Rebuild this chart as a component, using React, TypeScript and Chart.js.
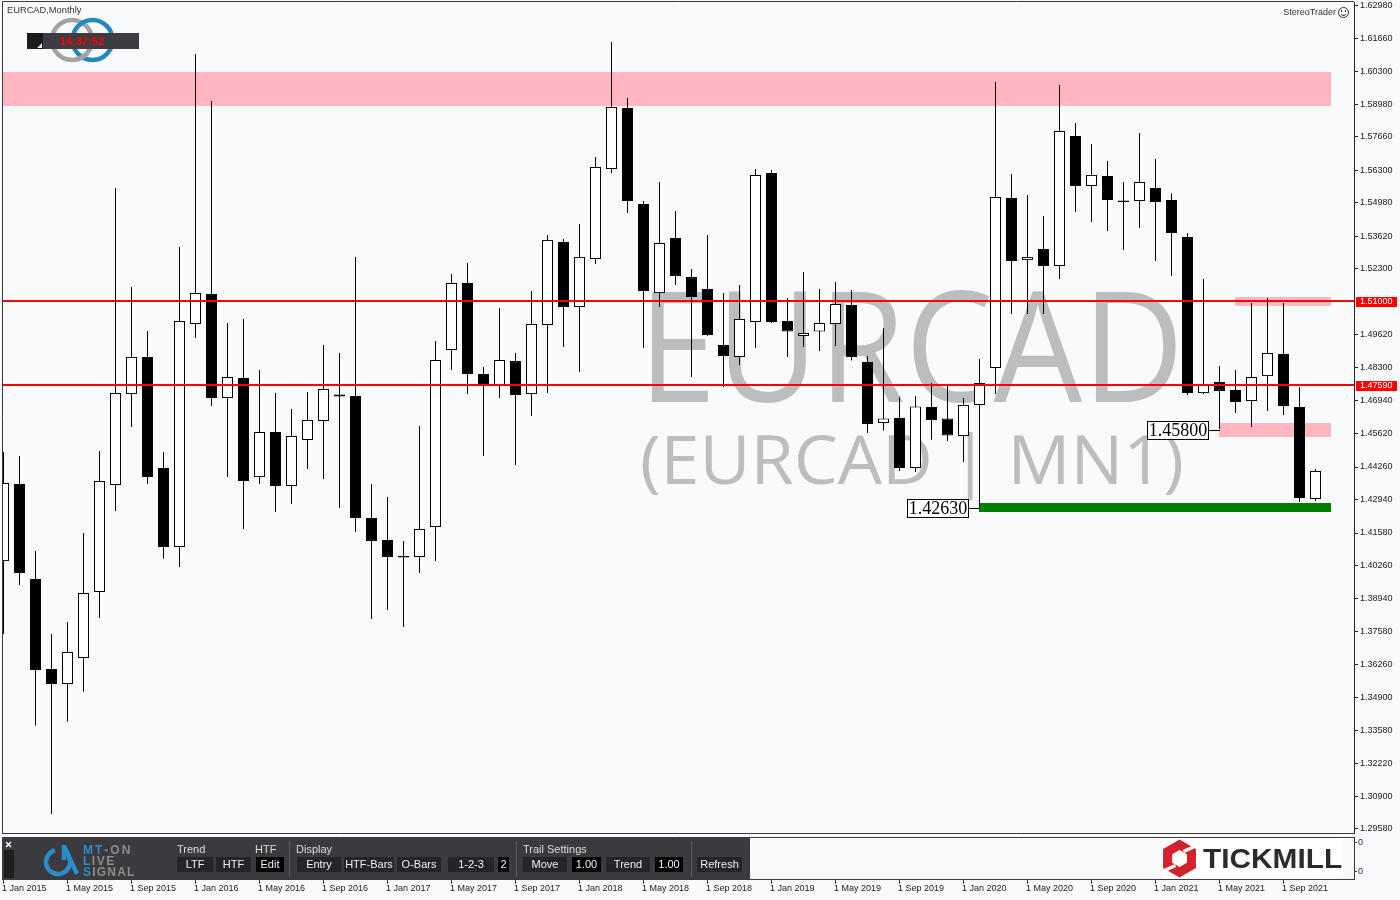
import { useEffect, useRef } from 'react';
import { Chart, registerables } from 'chart.js';

Chart.register(...registerables);

// ---------------- data ----------------
const symbol = 'EURCAD';
const periodName = 'Monthly';
const periodCode = 'MN1';

const opens = [1.4044, 1.4357, 1.3971, 1.3606, 1.3545, 1.3651, 1.3919, 1.4353, 1.4722, 1.4873,
  1.4422, 1.4101, 1.5007, 1.5128, 1.4706, 1.4787, 1.4385, 1.4568, 1.4349, 1.4536,
  1.4613, 1.4720, 1.4714, 1.4219, 1.4130, 1.4065, 1.4061, 1.4182, 1.4901, 1.5173,
  1.4804, 1.4759, 1.4856, 1.4722, 1.5003, 1.5340, 1.5076, 1.5271, 1.5636, 1.5884,
  1.5494, 1.5132, 1.5356, 1.5197, 1.5149, 1.4921, 1.4873, 1.5015, 1.5620, 1.5019,
  1.4958, 1.4976, 1.5007, 1.5084, 1.4852, 1.4605, 1.4625, 1.4422, 1.4670, 1.4623,
  1.4552, 1.4678, 1.4828, 1.5518, 1.5266, 1.5311, 1.5242, 1.5770, 1.5567, 1.5608,
  1.5508, 1.5506, 1.5559, 1.5510, 1.5360, 1.4726, 1.4771, 1.4739, 1.4694, 1.4795,
  1.4885, 1.4670, 1.4296];

const highs = [1.4487, 1.4471, 1.4085, 1.3748, 1.3797, 1.4158, 1.4491, 1.5559, 1.5157, 1.4978,
  1.4487, 1.5319, 1.6103, 1.5912, 1.5011, 1.5027, 1.4820, 1.4726, 1.4662, 1.4731,
  1.4921, 1.4889, 1.5279, 1.4357, 1.4304, 1.4126, 1.4592, 1.4938, 1.5210, 1.5254,
  1.4832, 1.5072, 1.4889, 1.5141, 1.5368, 1.5352, 1.5413, 1.5685, 1.6152, 1.5924,
  1.5506, 1.5583, 1.5465, 1.5230, 1.5368, 1.5132, 1.5165, 1.5636, 1.5632, 1.5112,
  1.5218, 1.5149, 1.5177, 1.5145, 1.4877, 1.4990, 1.4710, 1.4714, 1.4767, 1.4755,
  1.4706, 1.4865, 1.5989, 1.5616, 1.5530, 1.5445, 1.5977, 1.5823, 1.5737, 1.5668,
  1.5583, 1.5782, 1.5677, 1.5538, 1.5376, 1.5189, 1.4836, 1.4820, 1.5092, 1.5112,
  1.5092, 1.4751, 1.4418];

const lows = [1.3748, 1.3947, 1.3376, 1.3017, 1.3392, 1.3513, 1.3813, 1.4247, 1.4588, 1.4357,
  1.4053, 1.4020, 1.4950, 1.4674, 1.4385, 1.4174, 1.4357, 1.4243, 1.4276, 1.4418,
  1.4377, 1.4260, 1.4162, 1.3809, 1.3845, 1.3776, 1.3996, 1.4044, 1.4820, 1.4722,
  1.4471, 1.4706, 1.4434, 1.4633, 1.4726, 1.4913, 1.4812, 1.5250, 1.5620, 1.5457,
  1.4909, 1.5076, 1.5165, 1.4791, 1.4958, 1.4751, 1.4840, 1.4909, 1.5011, 1.4873,
  1.4913, 1.4897, 1.4917, 1.4858, 1.4564, 1.4574, 1.4410, 1.4406, 1.4537, 1.4532,
  1.4446, 1.4263, 1.4722, 1.5047, 1.5047, 1.5047, 1.5189, 1.5461, 1.5421, 1.5384,
  1.5307, 1.5396, 1.5262, 1.5202, 1.4718, 1.4722, 1.4580, 1.4645, 1.4588, 1.4653,
  1.4637, 1.4284, 1.4288];

const closes = [1.4361, 1.3996, 1.3602, 1.3545, 1.3675, 1.3914, 1.4369, 1.4726, 1.4873, 1.4385,
  1.4101, 1.5019, 1.5132, 1.4706, 1.4791, 1.4369, 1.4568, 1.4349, 1.4552, 1.4617,
  1.4743, 1.4712, 1.4219, 1.4126, 1.4061, 1.4059, 1.4174, 1.4860, 1.5173, 1.4804,
  1.4763, 1.4860, 1.4718, 1.5007, 1.5348, 1.5076, 1.5279, 1.5644, 1.5888, 1.5506,
  1.5141, 1.5335, 1.5202, 1.5116, 1.4962, 1.4877, 1.5027, 1.5612, 1.5015, 1.4976,
  1.4970, 1.5011, 1.5088, 1.4873, 1.4601, 1.4623, 1.4422, 1.4672, 1.4617, 1.4554,
  1.4678, 1.4767, 1.5522, 1.5262, 1.5279, 1.5242, 1.5790, 1.5567, 1.5612, 1.5510,
  1.5502, 1.5583, 1.5502, 1.5376, 1.4726, 1.4763, 1.4735, 1.4690, 1.4791, 1.4889,
  1.4674, 1.4300, 1.4410];

const timeLabels = ['1 Jan 2015', '1 May 2015', '1 Sep 2015', '1 Jan 2016', '1 May 2016', '1 Sep 2016',
  '1 Jan 2017', '1 May 2017', '1 Sep 2017', '1 Jan 2018', '1 May 2018', '1 Sep 2018',
  '1 Jan 2019', '1 May 2019', '1 Sep 2019', '1 Jan 2020', '1 May 2020', '1 Sep 2020',
  '1 Jan 2021', '1 May 2021', '1 Sep 2021'];
const timeLabelBars = [0, 4, 8, 12, 16, 20, 24, 28, 32, 36, 40, 44, 48, 52, 56, 60, 64, 68, 72, 76, 80];

const priceTicks = [1.6298, 1.6166, 1.603, 1.5898, 1.5766, 1.563, 1.5498, 1.5362, 1.523,
  1.4962, 1.483, 1.4694, 1.4562, 1.4426, 1.4294, 1.4158, 1.4026, 1.3894, 1.3758,
  1.3626, 1.349, 1.3358, 1.3222, 1.309, 1.2958];

const levelLines = [1.51, 1.4759];

const zoneStart = [-2, 77, 76, 61];
const zoneEnd = [83, 83, 83, 83];
const zoneHigh = [1.6030, 1.5116, 1.4605, 1.4280];
const zoneLow = [1.5892, 1.5079, 1.4548, 1.4243];
const zoneColors = ['#ffb6c1', '#ffb6c1', '#ffb6c1', '#008000'];

const markBars = [61, 76];
const markValues = [1.4263, 1.458];

const subAxisLabels = ['0', '0'];

// ---------------- drawing helpers ----------------
const BG = '#f8fafc';
const SANS = '"Liberation Sans", Arial, sans-serif';

function fitText(ctx: any, text: string, left: number, right: number, baseline: number, font: string, color: string) {
  ctx.save();
  ctx.font = font;
  ctx.textAlign = 'left';
  ctx.textBaseline = 'alphabetic';
  const m = ctx.measureText(text);
  const ink = m.actualBoundingBoxLeft + m.actualBoundingBoxRight;
  const sx = (right - left) / ink;
  ctx.translate(left, baseline);
  ctx.scale(sx, 1);
  ctx.fillStyle = color;
  ctx.fillText(text, m.actualBoundingBoxLeft, 0);
  ctx.restore();
}

function spacedText(ctx: any, parts: [string, string][], x: number, y: number, spacing: number) {
  let cx = x;
  for (const [txt, color] of parts) {
    for (const ch of txt) {
      ctx.fillStyle = color;
      ctx.fillText(ch, cx, y);
      cx += ctx.measureText(ch).width + spacing;
    }
  }
}

function hexPath(ctx: any, cx: number, cy: number, r: number) {
  ctx.beginPath();
  for (let j = 0; j < 6; j++) {
    const a = ((-90 + 60 * j) * Math.PI) / 180;
    const px = cx + r * Math.cos(a);
    const py = cy + r * Math.sin(a);
    if (j === 0) ctx.moveTo(px, py); else ctx.lineTo(px, py);
  }
  ctx.closePath();
}

const mt4Plugin = {
  id: 'mt4look',
  beforeDraw(chart: any) {
    const ctx = chart.ctx;
    ctx.save();
    ctx.fillStyle = BG;
    ctx.fillRect(0, 0, chart.width, chart.height);
    ctx.restore();
  },
  beforeDatasetsDraw(chart: any) {
    const { ctx, chartArea: a, scales } = chart;
    const x = scales.x, y = scales.y;
    ctx.save();
    ctx.beginPath();
    ctx.rect(a.left, a.top, a.right - a.left, a.bottom - a.top);
    ctx.clip();
    // watermark
    fitText(ctx, symbol, 652, 1176, 402, '154px "Open Sans"', '#bcbdbf');
    fitText(ctx, `(${symbol} | ${periodCode})`, 642, 1182, 484, '67px "Open Sans"', '#bcbdbf');
    // zones
    for (let i = 0; i < zoneStart.length; i++) {
      const x1 = Math.floor(x.getPixelForValue(zoneStart[i]));
      const x2 = Math.floor(x.getPixelForValue(zoneEnd[i]));
      const y1 = Math.round(y.getPixelForValue(zoneHigh[i]));
      const y2 = Math.round(y.getPixelForValue(zoneLow[i]));
      ctx.fillStyle = zoneColors[i];
      ctx.fillRect(x1, y1, x2 - x1, y2 - y1);
    }
    ctx.restore();
  },
  afterDatasetsDraw(chart: any) {
    const { ctx, chartArea: a, scales } = chart;
    const x = scales.x, y = scales.y;
    ctx.save();
    ctx.beginPath();
    ctx.rect(a.left, a.top, a.right - a.left, a.bottom - a.top);
    ctx.clip();
    ctx.fillStyle = '#ff0000';
    for (const v of levelLines) {
      const py = Math.round(y.getPixelForValue(v));
      ctx.fillRect(a.left, py - 1, a.right - a.left, 2);
    }
    // price marks
    ctx.font = '18px "Liberation Serif", "Times New Roman", serif';
    ctx.textBaseline = 'middle';
    ctx.textAlign = 'center';
    for (let i = 0; i < markBars.length; i++) {
      const cx = x.getPixelForValue(markBars[i]);
      const py = Math.round(y.getPixelForValue(markValues[i])) + 1;
      const txt = markValues[i].toFixed(5);
      const w = Math.round(ctx.measureText(txt).width + 3);
      const right = Math.floor(cx) - 10;
      const left = right - w;
      ctx.strokeStyle = '#000';
      ctx.lineWidth = 1;
      ctx.beginPath();
      ctx.moveTo(right, py + 0.5);
      ctx.lineTo(Math.floor(cx) + 1, py + 0.5);
      ctx.stroke();
      ctx.fillStyle = '#ffffff';
      ctx.fillRect(left, py - 9, w, 19);
      ctx.strokeRect(left + 0.5, py - 8.5, w - 1, 18);
      ctx.fillStyle = '#000';
      ctx.fillText(txt, left + w / 2, py + 1);
    }
    ctx.restore();
  },
  afterDraw(chart: any) {
    const { ctx, chartArea: a, scales } = chart;
    const x = scales.x, y = scales.y;
    ctx.save();
    // frame
    ctx.strokeStyle = '#3a3a3a';
    ctx.lineWidth = 1;
    ctx.beginPath();
    ctx.moveTo(2.5, a.bottom + 0.5);
    ctx.lineTo(2.5, 1.5);
    ctx.lineTo(a.right, 1.5);
    ctx.moveTo(2, a.bottom + 0.5);
    ctx.lineTo(a.right + 1, a.bottom + 0.5);
    ctx.stroke();

    // red level labels on price axis
    ctx.font = `9px ${SANS}`;
    ctx.textBaseline = 'middle';
    ctx.textAlign = 'left';
    for (const v of levelLines) {
      const py = Math.round(y.getPixelForValue(v));
      ctx.fillStyle = '#ff0000';
      ctx.fillRect(a.right + 2, py - 4, 41, 10);
      ctx.fillStyle = '#ffffff';
      ctx.fillText(v.toFixed(5), a.right + 6, py + 1);
    }

    // top-left title
    ctx.fillStyle = '#333333';
    ctx.font = `9.3px ${SANS}`;
    ctx.fillText(`${symbol},${periodName}`, 7, 10.5);

    // rings logo
    ctx.lineWidth = 4.5;
    ctx.strokeStyle = '#a3a3a3';
    ctx.beginPath(); ctx.arc(72, 40, 20, 0, Math.PI * 2); ctx.stroke();
    ctx.strokeStyle = '#2389bd';
    ctx.beginPath(); ctx.arc(92.5, 40, 20, 0, Math.PI * 2); ctx.stroke();
    ctx.strokeStyle = '#a3a3a3';
    ctx.beginPath(); ctx.arc(72, 40, 20, 0.15 * Math.PI, 0.45 * Math.PI); ctx.stroke();
    // clock box
    ctx.fillStyle = '#3d3c42';
    ctx.fillRect(27, 33, 112, 16);
    ctx.fillStyle = '#1b1b1c';
    ctx.fillRect(27, 33, 16, 16);
    ctx.fillStyle = '#e8e8e8';
    ctx.beginPath(); ctx.moveTo(42, 43); ctx.lineTo(42, 48); ctx.lineTo(37, 48); ctx.closePath(); ctx.fill();
    ctx.fillStyle = '#ff0000';
    ctx.font = `bold 11px ${SANS}`;
    ctx.textAlign = 'center';
    ctx.fillText('14:37:52', 82, 41.5);

    // StereoTrader
    ctx.font = `9px ${SANS}`;
    ctx.textAlign = 'right';
    ctx.fillStyle = '#333';
    ctx.fillText('StereoTrader', 1336, 12.5);
    ctx.lineWidth = 1;
    ctx.strokeStyle = '#333';
    ctx.beginPath(); ctx.arc(1343.5, 12.5, 5, 0, Math.PI * 2); ctx.stroke();
    ctx.fillRect(1341, 10, 1, 2);
    ctx.fillRect(1345, 10, 1, 2);
    ctx.beginPath(); ctx.arc(1343.5, 12.5, 3, 0.2 * Math.PI, 0.8 * Math.PI); ctx.stroke();

    // sub window
    ctx.strokeStyle = '#3a3a3a';
    ctx.strokeRect(2.5, 837.5, a.right - 2, 42);
    ctx.fillStyle = '#222a44';
    ctx.textAlign = 'left';
    ctx.font = `9px ${SANS}`;
    ctx.fillText(subAxisLabels[0], a.right + 4, 843);
    ctx.fillText(subAxisLabels[1], a.right + 4, 872);
    ctx.fillStyle = '#3a3a3a';
    ctx.fillRect(a.right, 842, 3, 1);
    ctx.fillRect(a.right, 871, 3, 1);

    // toolbar
    ctx.fillStyle = '#3b3a3f';
    ctx.fillRect(3, 838, 747, 41);
    ctx.fillStyle = '#1e1e20';
    ctx.fillRect(4, 850, 10, 28);
    ctx.strokeStyle = '#ffffff';
    ctx.lineWidth = 1.5;
    ctx.beginPath();
    ctx.moveTo(6, 842); ctx.lineTo(11, 847);
    ctx.moveTo(11, 842); ctx.lineTo(6, 847);
    ctx.stroke();
    // MT-ON logo
    ctx.strokeStyle = '#2a8cc8';
    ctx.lineWidth = 4.5;
    ctx.beginPath();
    ctx.arc(58, 862, 12, (-20 * Math.PI) / 180, (255 * Math.PI) / 180, false);
    ctx.stroke();
    ctx.beginPath();
    ctx.moveTo(64, 845); ctx.lineTo(64, 860);
    ctx.moveTo(64, 846); ctx.lineTo(77, 874);
    ctx.stroke();
    ctx.font = `bold 12px ${SANS}`;
    ctx.textAlign = 'left';
    ctx.textBaseline = 'middle';
    spacedText(ctx, [['MT', '#2a8cc8'], ['-ON', '#8c8c8c']], 83, 850.5, 2);
    spacedText(ctx, [['L', '#2a8cc8'], ['IVE', '#8c8c8c']], 83, 862, 1.5);
    spacedText(ctx, [['S', '#2a8cc8'], ['IGNAL', '#8c8c8c']], 83, 872.5, 1.2);

    ctx.font = `11px ${SANS}`;
    ctx.fillStyle = '#dcdcdc';
    ctx.fillText('Trend', 177, 850);
    ctx.fillText('HTF', 255, 850);
    ctx.fillText('Display', 296, 850);
    ctx.fillText('Trail Settings', 523, 850);
    const buttons: [number, number, string, boolean][] = [
      [177, 213, 'LTF', false], [216, 251, 'HTF', false], [256, 284, 'Edit', true],
      [297, 341, 'Entry', false], [344, 394, 'HTF-Bars', false], [397, 441, 'O-Bars', false],
      [448, 494, '1-2-3', false], [498, 509, '2', true], [523, 567, 'Move', false],
      [572, 601, '1.00', true], [606, 650, 'Trend', false], [655, 683, '1.00', true],
      [697, 742, 'Refresh', false]];
    ctx.textAlign = 'center';
    for (const [b1, b2, t, dark] of buttons) {
      ctx.fillStyle = dark ? '#000000' : '#252428';
      ctx.fillRect(b1, 857, b2 - b1, 15);
      ctx.fillStyle = '#f0f0f0';
      ctx.fillText(t, (b1 + b2) / 2, 865);
    }
    ctx.fillStyle = '#5c5b60';
    for (const sx of [289, 516, 691]) ctx.fillRect(sx, 841, 1, 36);

    // Tickmill logo
    ctx.fillStyle = '#ffffff';
    ctx.fillRect(1163, 838, 180, 40);
    const hx = 1179.5, hy = 858.5;
    ctx.fillStyle = '#d2232a';
    hexPath(ctx, hx, hy, 19);
    ctx.fill();
    ctx.fillStyle = '#ffffff';
    hexPath(ctx, hx, hy, 8.5);
    ctx.fill();
    ctx.strokeStyle = '#ffffff';
    ctx.lineWidth = 3.5;
    ctx.beginPath();
    ctx.moveTo(hx + 4, hy - 7); ctx.lineTo(hx + 15, hy - 12);
    ctx.moveTo(hx - 4, hy + 7); ctx.lineTo(hx - 15, hy + 12);
    ctx.stroke();
    fitText(ctx, 'TICKMILL', 1203, 1342, 868, `bold 28px ${SANS}`, '#2b2b2b');

    // time axis
    ctx.font = `9px ${SANS}`;
    ctx.textAlign = 'left';
    ctx.textBaseline = 'middle';
    for (let i = 0; i < timeLabels.length; i++) {
      const px = x.getPixelForValue(timeLabelBars[i]);
      ctx.fillStyle = '#3a3a3a';
      ctx.fillRect(Math.floor(px), 880, 1, 4);
      ctx.fillStyle = '#1a1a1a';
      ctx.fillText(timeLabels[i], px - 1.5, 888.5);
    }
    ctx.restore();
  },
};

export default function App() {
  const ref = useRef<HTMLCanvasElement | null>(null);
  useEffect(() => {
    const canvas = ref.current;
    if (!canvas) return;
    const idx = opens.map((_, i) => i);
    const wickData = idx.map((i) => ({ x: i, y: [lows[i], highs[i]] }));
    const bodyData = idx.map((i) => ({ x: i, y: [opens[i], closes[i]] }));
    const bodyColors = idx.map((i) => (closes[i] >= opens[i] ? '#ffffff' : '#000000'));

    const chart = new Chart(canvas, {
      type: 'bar',
      data: {
        datasets: [
          {
            data: bodyData as any,
            backgroundColor: bodyColors,
            borderColor: '#000000',
            borderWidth: 1,
            borderSkipped: false,
            barThickness: 11,
            categoryPercentage: 1,
            barPercentage: 11 / 16,
            grouped: false,
            inflateAmount: 0,
            order: 1,
          } as any,
          {
            data: wickData as any,
            backgroundColor: '#000000',
            borderWidth: 0,
            barThickness: 1,
            categoryPercentage: 1,
            barPercentage: 1 / 16,
            grouped: false,
            inflateAmount: 0,
            order: 2,
          } as any,
        ],
      },
      options: {
        responsive: false,
        animation: false,
        devicePixelRatio: 1,
        events: [],
        layout: { padding: { left: 2, top: 2, right: 0, bottom: 67 } },
        plugins: { legend: { display: false }, tooltip: { enabled: false } },
        scales: {
          x: {
            type: 'linear',
            display: false,
            bounds: 'data',
            offset: false,
            min: -0.09375,
            max: 84.40625,
            afterBuildTicks: (s: any) => { s.ticks = timeLabelBars.map((v) => ({ value: v })); },
          },
          y: {
            type: 'linear',
            position: 'right',
            bounds: 'data',
            min: 1.294,
            max: 1.6314,
            afterBuildTicks: (s: any) => { s.ticks = priceTicks.map((v) => ({ value: v })); },
            afterFit: (s: any) => { s.width = 46; s.paddingTop = 0; s.paddingBottom = 0; },
            ticks: {
              autoSkip: false,
              padding: 2,
              color: '#1a1a1a',
              font: { family: 'Liberation Sans', size: 9 },
              callback: (v: any) => Number(v).toFixed(5),
            },
            grid: { drawOnChartArea: false, drawTicks: true, tickLength: 4, color: '#222222', lineWidth: 1 },
            border: { display: true, color: '#222222', width: 1 },
          },
        },
      } as any,
      plugins: [mt4Plugin],
    });
    return () => chart.destroy();
  }, []);

  return (
    <div style={{ position: 'absolute', left: 0, top: 0, width: 1400, height: 900, background: BG, overflow: 'hidden' }}>
      <canvas ref={ref} width={1400} height={900} style={{ width: 1400, height: 900, display: 'block' }} />
    </div>
  );
}
